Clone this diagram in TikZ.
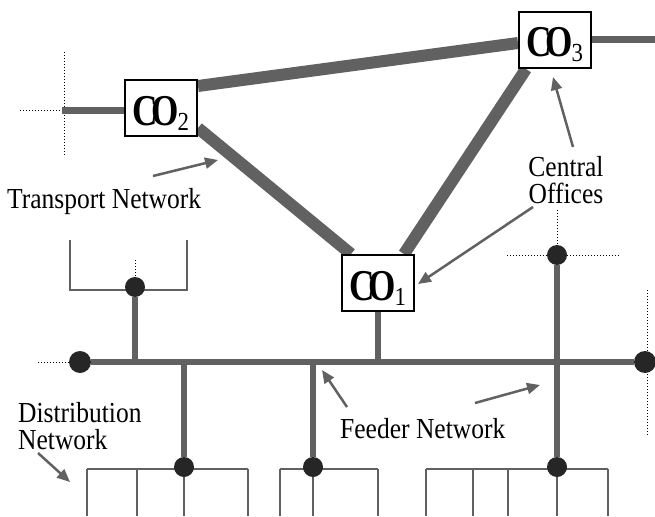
\documentclass[tikz,border=0pt]{standalone}
\usepackage{fontspec}
\setmainfont{Liberation Serif}[FakeStretch=0.88]
\newfontfamily\cofont{Liberation Serif}[FakeStretch=0.8]
\usetikzlibrary{arrows.meta,backgrounds}

\newcommand{\coname}[1]{{\cofont\bfseries\fontsize{44}{44}\selectfont C\kern-7pt O}\kern-1pt\raisebox{-5pt}{\fontsize{26}{26}\selectfont #1}}

\begin{document}
\begin{tikzpicture}[x=1pt, y=-1pt,
    office/.style={draw, line width=2pt, fill=white, minimum width=72pt, minimum height=56pt,
                   inner sep=0pt, text height=42pt, text depth=8pt},
    hub/.style={circle, fill=black!85, minimum size=20pt, inner sep=0pt},
    trunk/.style={black!62, line width=12pt},
    feeder/.style={black!62, line width=6pt},
    drop/.style={black!62, line width=1.5pt},
    stub/.style={dotted, line width=1pt},
    pointer/.style={black!62, line width=2.5pt, -{Triangle[length=13pt, width=11pt]}},
    blurb/.style={inner sep=0pt, font=\fontsize{29}{27}\selectfont}]
        \useasboundingbox (0,0) rectangle (655,516);

        % Central offices
        \node[office] (co2) at (161,108) {\coname{2}};
        \node[office] (co3) at (555,40) {\coname{3}};
        \node[office] (co1) at (378,283) {\coname{1}};

        % Feeder bus and its hubs
        \node[hub, minimum size=22pt] (busL) at (80,362) {};
        \node[hub, minimum size=22pt] (busR) at (645,362) {};
        \node[hub] (hubTL) at (135,287) {};
        \node[hub] (hubTR) at (557,255) {};
        \node[hub] (hubB1) at (184,467) {};
        \node[hub] (hubB2) at (313,467) {};
        \node[hub] (hubB3) at (557,467) {};
        \coordinate (j1) at (135,362);
        \coordinate (j2) at (184,362);
        \coordinate (j3) at (313,362);
        \coordinate (j4) at (378,362);

        % Loose ends
        \coordinate (co2in) at (62,111);
        \coordinate (co3out) at (655,40);

        \begin{scope}[on background layer]
            % Distribution wiring
            \draw[drop] (70,240) -- (70,290) -- (187,290) -- (187,240);
            \draw[drop] (87,469) -- (248,469);
            \foreach \x in {87,137,184,248} \draw[drop] (\x,469) -- (\x,516);
            \draw[drop] (280,469) -- (378,469);
            \foreach \x in {280,313,378} \draw[drop] (\x,469) -- (\x,516);
            \draw[drop] (426,469) -- (608,469);
            \foreach \x in {426,473,508,557,608} \draw[drop] (\x,469) -- (\x,516);

            % Dotted continuations
            \draw[stub] (20,111) -- (co2in);
            \draw[stub] (64,52) -- (64,157);
            \draw[stub] (38,362) -- (busL);
            \draw[stub] (647,290) -- (647,435);
            \draw[stub] (507,255) -- (620,255);
            \draw[stub] (557,210) -- (hubTR);
            \draw[stub] (135,260) -- (hubTL);

            % Transport network
            \draw[trunk] ([yshift=22pt]co2.east) -- ([yshift=-3pt]co3.west);
            \draw[trunk] ([yshift=-20pt]co2.east) -- ([xshift=10pt]co1.north west);
            \draw[trunk] ([xshift=8pt]co3.south west) -- ([xshift=-11pt]co1.north east);
            \draw[black!62, line width=7pt] (co2in) -- (co2.west |- co2in);
            \draw[black!62, line width=7pt] (co3.east) -- (co3out);

            % Feeder network
            \draw[feeder] (busL) -- (busR);
            \draw[feeder] (co1.south) -- (j4);
            \draw[feeder] (hubTL) -- (j1);
            \draw[feeder] (j2) -- (hubB1);
            \draw[feeder] (j3) -- (hubB2);
            \draw[feeder] (hubTR) -- (hubB3);
        \end{scope}

        % Labels
        \node[blurb, anchor=base west] (transport) at (7,208) {Transport Network};
        \node[blurb, anchor=north, align=center] (offices) at (566,156) {Central\\Offices};
        \node[blurb, anchor=base west] (feedtext) at (340,438) {Feeder Network};
        \node[blurb, anchor=north west, align=left] (disttext) at (18,402) {Distribution\\Network};

        % Arrows
        \coordinate (tpA) at (153,176);  \coordinate (tpB) at (218,160);
        \coordinate (ofA) at (573,147);  \coordinate (ofB) at (553,77);
        \coordinate (ofC) at (533,207);  \coordinate (ofD) at (418,284);
        \coordinate (fdA) at (347,407);  \coordinate (fdB) at (322,370);
        \coordinate (fdC) at (475,403);  \coordinate (fdD) at (540,385);
        \coordinate (dsA) at (38,453);   \coordinate (dsB) at (70,482);
        \draw[pointer] (tpA) -- (tpB);
        \draw[pointer] (ofA) -- (ofB);
        \draw[pointer] (ofC) -- (ofD);
        \draw[pointer] (fdA) -- (fdB);
        \draw[pointer] (fdC) -- (fdD);
        \draw[pointer] (dsA) -- (dsB);
\end{tikzpicture}
\end{document}
